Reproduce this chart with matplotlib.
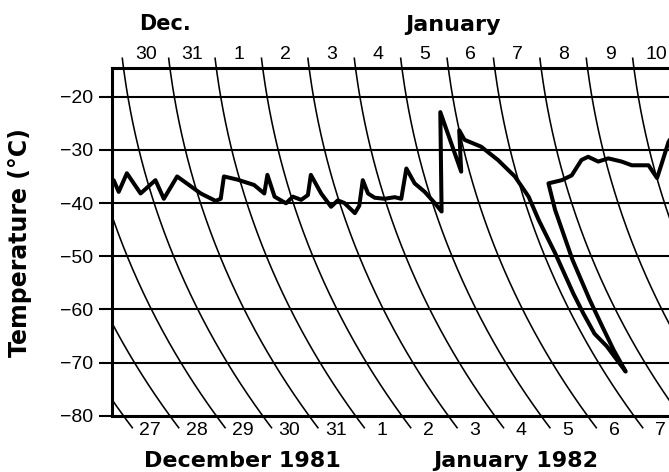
import numpy as np
import matplotlib
matplotlib.use("Agg")
import matplotlib.pyplot as plt

# ---------------- data ----------------
# time in days since 1 Dec 1981 00:00 (Dec d 00:00 -> d-1, Jan d 00:00 -> 30+d)
top_day_labels = ['30', '31', '1', '2', '3', '4', '5', '6', '7', '8', '9', '10']
top_day_starts = [29, 30, 31, 32, 33, 34, 35, 36, 37, 38, 39, 40]
bottom_day_labels = ['27', '28', '29', '30', '31', '1', '2', '3', '4', '5', '6', '7']
bottom_day_starts = [26, 27, 28, 29, 30, 31, 32, 33, 34, 35, 36, 37]
temp_ticks = [-20, -30, -40, -50, -60, -70, -80]

trace_time = [28.279, 28.313, 28.607, 28.774, 29.180, 29.239, 29.671, 30.071,
              30.341, 30.465, 30.679, 30.951, 31.275, 31.440, 31.626, 31.640,
              31.840, 32.034, 32.192, 32.369, 32.562, 32.666, 32.787, 32.977,
              33.102, 33.254, 33.403, 33.649, 33.675, 33.790, 33.995, 34.227,
              34.356, 34.659, 34.746, 34.908, 35.048, 35.135, 35.673, 35.822,
              36.000, 36.067, 36.391, 36.681, 36.949, 37.115, 37.165, 37.250,
              37.260, 37.265, 37.275, 37.386, 37.468, 37.489, 37.526, 37.548,
              37.565, 37.593, 37.630, 37.937, 38.181, 38.482, 38.644, 38.834,
              39.068, 39.338, 39.535, 39.896, 40.004, 40.196, 40.454, 40.603]
trace_temp = [-35.7, -37.9, -34.4, -38.2, -35.7, -39.2, -35.0, -38.2,
              -39.6, -39.2, -35.0, -35.6, -36.6, -38.2, -34.7, -38.8,
              -40.05, -38.8, -39.4, -38.5, -34.7, -38.2, -40.7, -39.5,
              -40.0, -41.9, -40.5, -35.7, -38.2, -39.0, -39.2, -38.9,
              -39.2, -33.5, -36.3, -37.9, -40.0, -41.6, -22.9, -34.1,
              -26.3, -28.1, -29.4, -31.9, -35.0, -38.8, -43.2, -49.5,
              -57.0, -60.8, -64.6, -66.9, -71.7, -67.7, -63.3, -58.2,
              -50.7, -41.3, -36.3, -35.7, -34.8, -31.9, -31.3, -32.2,
              -31.6, -32.2, -32.9, -32.9, -35.3, -32.5, -28.5, -27.0]

# ---------------- chart geometry (recorder arcs) ----------------
W, H, DPI = 669, 472, 100
AX_L, AX_R, AX_T, AX_B = 112.3, 669.0, 68.3, 415.7
T_BOT = -80.0
PX_PER_DEG = (AX_B - 96.7) / 60.0
T_TOP = -20.0 + (96.7 - AX_T) / PX_PER_DEG
PX_PER_DAY = 46.4
X_LEFT = 34.5 + (AX_L - 378.76) / PX_PER_DAY
X_RIGHT = 34.5 + (AX_R - 378.76) / PX_PER_DAY
ARC_R, ARC_A = 760.0, 100.0


def lag(T):
    """horizontal shift (days) of a time line at temperature T (pen arc)."""
    h = (T_TOP - np.asarray(T, float)) * PX_PER_DEG
    off = np.sqrt(ARC_R ** 2 - ARC_A ** 2) - np.sqrt(ARC_R ** 2 - (h + ARC_A) ** 2)
    return off / PX_PER_DAY


def chart_x(t, T):
    return np.asarray(t, float) + lag(T)


fig = plt.figure(figsize=(W / DPI, H / DPI), dpi=DPI)
ax = fig.add_axes([AX_L / W, 1 - AX_B / H, (AX_R - AX_L) / W, (AX_B - AX_T) / H])
ax.set_xlim(X_LEFT, X_RIGHT)
ax.set_ylim(T_BOT, T_TOP)

num_font = 'Liberation Sans'
bold_font = 'DejaVu Sans'

# horizontal temperature lines
for v in temp_ticks[:-1]:
    ax.axhline(v, color='black', lw=1.5, zorder=2)

# curved day lines
T_arc = np.linspace(T_BOT, T_TOP, 200)
T_up = np.linspace(T_TOP, T_TOP + 10 / PX_PER_DEG, 20)
T_dn = np.linspace(T_BOT - 12 / PX_PER_DEG, T_BOT, 20)
for t0 in range(22, 42):
    ax.plot(chart_x(t0, T_arc), T_arc, color='black', lw=1.15, zorder=2)
    xu = chart_x(t0, T_up)
    if xu.min() > X_LEFT + 0.05 and xu.max() < X_RIGHT:
        ax.plot(xu, T_up, color='black', lw=1.15, clip_on=False, zorder=2)
    xd = chart_x(t0, T_dn)
    if xd.min() > X_LEFT + 0.05 and xd.max() < X_RIGHT:
        ax.plot(xd, T_dn, color='black', lw=1.15, clip_on=False, zorder=2)

# temperature trace
ax.plot(chart_x(trace_time, trace_temp), trace_temp, color='black', lw=2.9,
        solid_joinstyle='round', solid_capstyle='round', zorder=3)

# spines / ticks
for s in ['left', 'top', 'bottom']:
    ax.spines[s].set_linewidth(2.2)
ax.spines['right'].set_visible(False)
ax.set_xticks([])
ax.set_yticks(temp_ticks)
ax.set_yticklabels([f'\u2212{abs(v)}' for v in temp_ticks])
ax.tick_params(axis='y', direction='out', length=9.5, width=1.5, pad=4,
               labelsize=14)
for lab in ax.get_yticklabels():
    lab.set_fontfamily(num_font)

# day labels on top
for lab, t0 in zip(top_day_labels, top_day_starts):
    xc = t0 + 0.5 + float(lag(T_TOP + 1.0))
    if xc < X_RIGHT:
        ax.text(xc, T_TOP + 13.5 / PX_PER_DEG, lab, ha='center', va='center',
                fontsize=14, family=num_font, clip_on=False)
# day labels at bottom
for lab, t0 in zip(bottom_day_labels, bottom_day_starts):
    xc = t0 + 0.45 + float(lag(T_BOT - 8 / PX_PER_DEG))
    if X_LEFT < xc < X_RIGHT:
        ax.text(xc, T_BOT - 14.5 / PX_PER_DEG, lab, ha='center', va='center',
                fontsize=14, family=num_font, clip_on=False)

# month / axis titles
fig.text(165 / W, 1 - 24 / H, 'Dec.', ha='center', va='center', fontsize=15,
         fontweight='bold', family=bold_font)
fig.text(453 / W, 1 - 25 / H, 'January', ha='center', va='center', fontsize=16,
         fontweight='bold', family=bold_font)
fig.text(242 / W, 1 - 461 / H, 'December 1981', ha='center', va='center',
         fontsize=16, fontweight='bold', family=bold_font)
fig.text(516 / W, 1 - 461 / H, 'January 1982', ha='center', va='center',
         fontsize=16, fontweight='bold', family=bold_font)
fig.text(20 / W, 1 - 243 / H, 'Temperature (\u00b0C)', ha='center', va='center',
         rotation=90, fontsize=17, fontweight='bold', family=bold_font)

fig.savefig('out.png', dpi=DPI)
